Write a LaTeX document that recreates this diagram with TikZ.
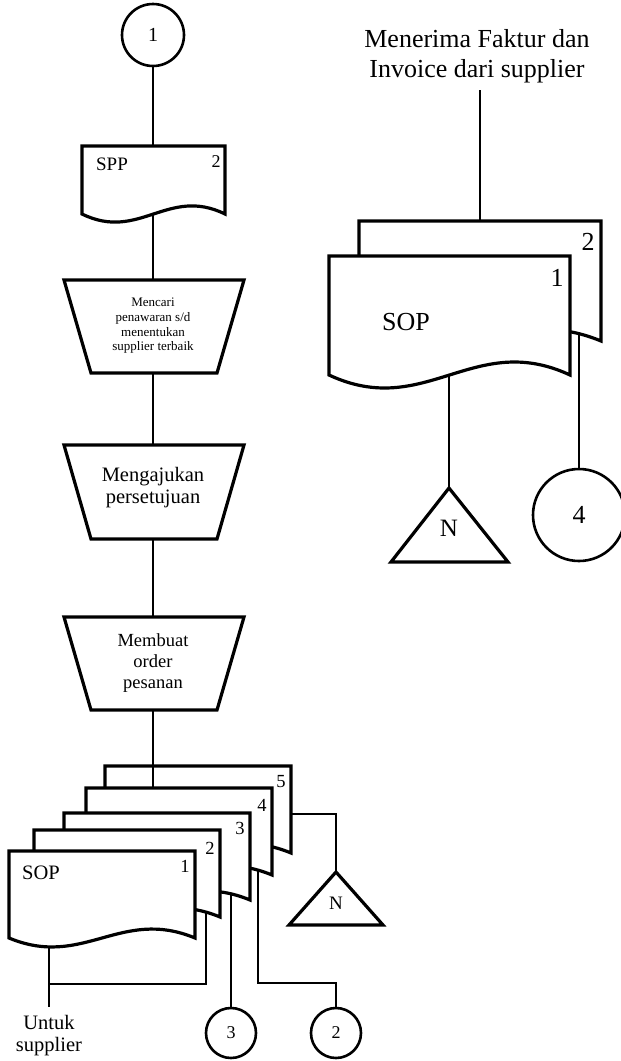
\documentclass[tikz,border=0pt]{standalone}
\usepackage{fontspec}
\setmainfont{Liberation Serif}
\pgfdeclarelayer{bg}
\pgfsetlayers{bg,main}
\newcommand\fsz[2]{\fontsize{#1}{#2}\selectfont}
\newcommand\docshape[5]{\draw[docline] (#1,#2) -- ({#1+#3},#2) -- ({#1+#3},{#2+#4}) .. controls ({#1+0.6*#3},{#2+#4-#5}) and ({#1+0.4*#3},{#2+#4+#5}) .. (#1,{#2+#4}) -- cycle;}
\begin{document}
\begin{tikzpicture}[x=1pt,y=-1pt,
  conn/.style={line width=1.3pt},
  docline/.style={line width=3.2pt, fill=white, line join=miter},
  shapeline/.style={line width=3.2pt, fill=white, line join=miter},
  circ/.style={circle, draw, line width=2.6pt, fill=white, inner sep=0pt},
  lbl/.style={inner sep=0pt, align=center}
]
\useasboundingbox (0,0) rectangle (621,1061);
\clip (0,0) rectangle (621,1061);

% ---------- left column ----------
\node[circ, minimum size=62pt, font=\fsz{20}{22}] (c1) at (153,35) {1};
\coordinate (sppT) at (153,146);
\coordinate (sppin) at (153,200);
\coordinate (t1T) at (153,280);
\coordinate (t1B) at (153,373);
\coordinate (t2T) at (153,445);
\coordinate (t2B) at (153,539);
\coordinate (t3T) at (153,617);
\coordinate (t3B) at (153,710);
\coordinate (d4T) at (153,788);

\begin{pgfonlayer}{bg}
\draw[conn] (c1) -- (sppT);
\draw[conn] (sppin) -- (t1T);
\draw[conn] (t1B) -- (t2T);
\draw[conn] (t2B) -- (t3T);
\end{pgfonlayer}

\docshape{82}{146}{143}{68}{28}
\node[lbl, font=\fsz{19}{21}] (spp) at (112,164) {SPP};
\node[lbl, font=\fsz{18}{20}] (spp2) at (216,162) {2};

\draw[shapeline] (64,280) -- (244,280) -- (217,373) -- (91,373) -- cycle;
\node[lbl, font=\fsz{13}{14.7}] (tx1) at (153,326) {Mencari\\penawaran s/d\\menentukan\\supplier terbaik};

\draw[shapeline] (64,445) -- (244,445) -- (217,539) -- (91,539) -- cycle;
\node[lbl, font=\fsz{20.5}{22}] (tx2) at (153,488) {Mengajukan\\persetujuan};

\draw[shapeline] (64,617) -- (244,617) -- (217,710) -- (91,710) -- cycle;
\node[lbl, font=\fsz{18.5}{21}] (tx3) at (153,663) {Membuat\\order\\pesanan};

% ---------- bottom stack ----------
\node[circ, minimum size=50pt, font=\fsz{18}{20}] (c3) at (231,1033) {3};
\node[circ, minimum size=50pt, font=\fsz{18}{20}] (c2) at (336,1033) {2};
\node[lbl, anchor=north, font=\fsz{20.5}{22}] (us) at (49,1015) {Untuk\\supplier};
\coordinate (usT) at (49,1007);
\coordinate (d1in) at (49,930);
\coordinate (jn) at (49,984);
\coordinate (d2in) at (206,905);
\coordinate (d3in) at (231,885);
\coordinate (d4in) at (258,865);
\coordinate (k4) at (336,983);
\coordinate (d5in) at (285,814);
\coordinate (tri2) at (336,872);

\begin{pgfonlayer}{bg}
\draw[conn] (d1in) -- (usT);
\draw[conn] (d2in) |- (jn);
\draw[conn] (d3in) -- (c3);
\draw[conn] (d4in) |- (k4) -- (c2);
\draw[conn] (d5in) -| (tri2);
\end{pgfonlayer}

\docshape{105}{766}{186}{87}{31}
\node[lbl, font=\fsz{18.5}{20}] (n5) at (281,782) {5};
\draw[conn] (t3B) -- (d4T);
\docshape{86}{788}{186}{87}{31}
\node[lbl, font=\fsz{18.5}{20}] (n4) at (262,805) {4};
\docshape{64}{813}{186}{87}{31}
\node[lbl, font=\fsz{18.5}{20}] (n3) at (240,828) {3};
\docshape{34}{830}{186}{87}{31}
\node[lbl, font=\fsz{18.5}{20}] (n2) at (210,848) {2};
\docshape{9}{851}{186}{87}{31}
\node[lbl, font=\fsz{18.5}{20}] (n1) at (185,866) {1};
\node[lbl, font=\fsz{20.5}{22}] (sop1) at (41,873) {SOP};

\draw[shapeline] (tri2) -- (383,925) -- (289,925) -- cycle;
\node[lbl, font=\fsz{19}{20}] (nb) at (336,903) {N};

% ---------- right side ----------
\node[lbl, font=\fsz{26}{30}] (mf) at (477,56) {Menerima Faktur dan\\Invoice dari supplier};
\coordinate (mfB) at (480,90);
\coordinate (rd2T) at (480,221);
\coordinate (rd1in) at (449,360);
\coordinate (rd2in) at (579,330);
\coordinate (tri1) at (449,488);
\node[circ, minimum size=92pt, font=\fsz{26}{28}] (c4) at (579,515) {4};

\begin{pgfonlayer}{bg}
\draw[conn] (rd1in) -- (tri1);
\draw[conn] (rd2in) -- (c4);
\end{pgfonlayer}
\draw[conn] (mfB) -- (rd2T);

\docshape{359}{221}{242}{120}{40}
\node[lbl, font=\fsz{26}{28}] (rn2) at (588,242) {2};
\docshape{329}{256}{241}{119}{45}
\node[lbl, font=\fsz{26}{28}] (rn1) at (557,278) {1};
\node[lbl, font=\fsz{26}{28}] (sop2) at (406,322) {SOP};

\draw[shapeline] (tri1) -- (508,562) -- (391,562) -- cycle;
\node[lbl, font=\fsz{25}{26}] (nr) at (449,528) {N};
\end{tikzpicture}
\end{document}
